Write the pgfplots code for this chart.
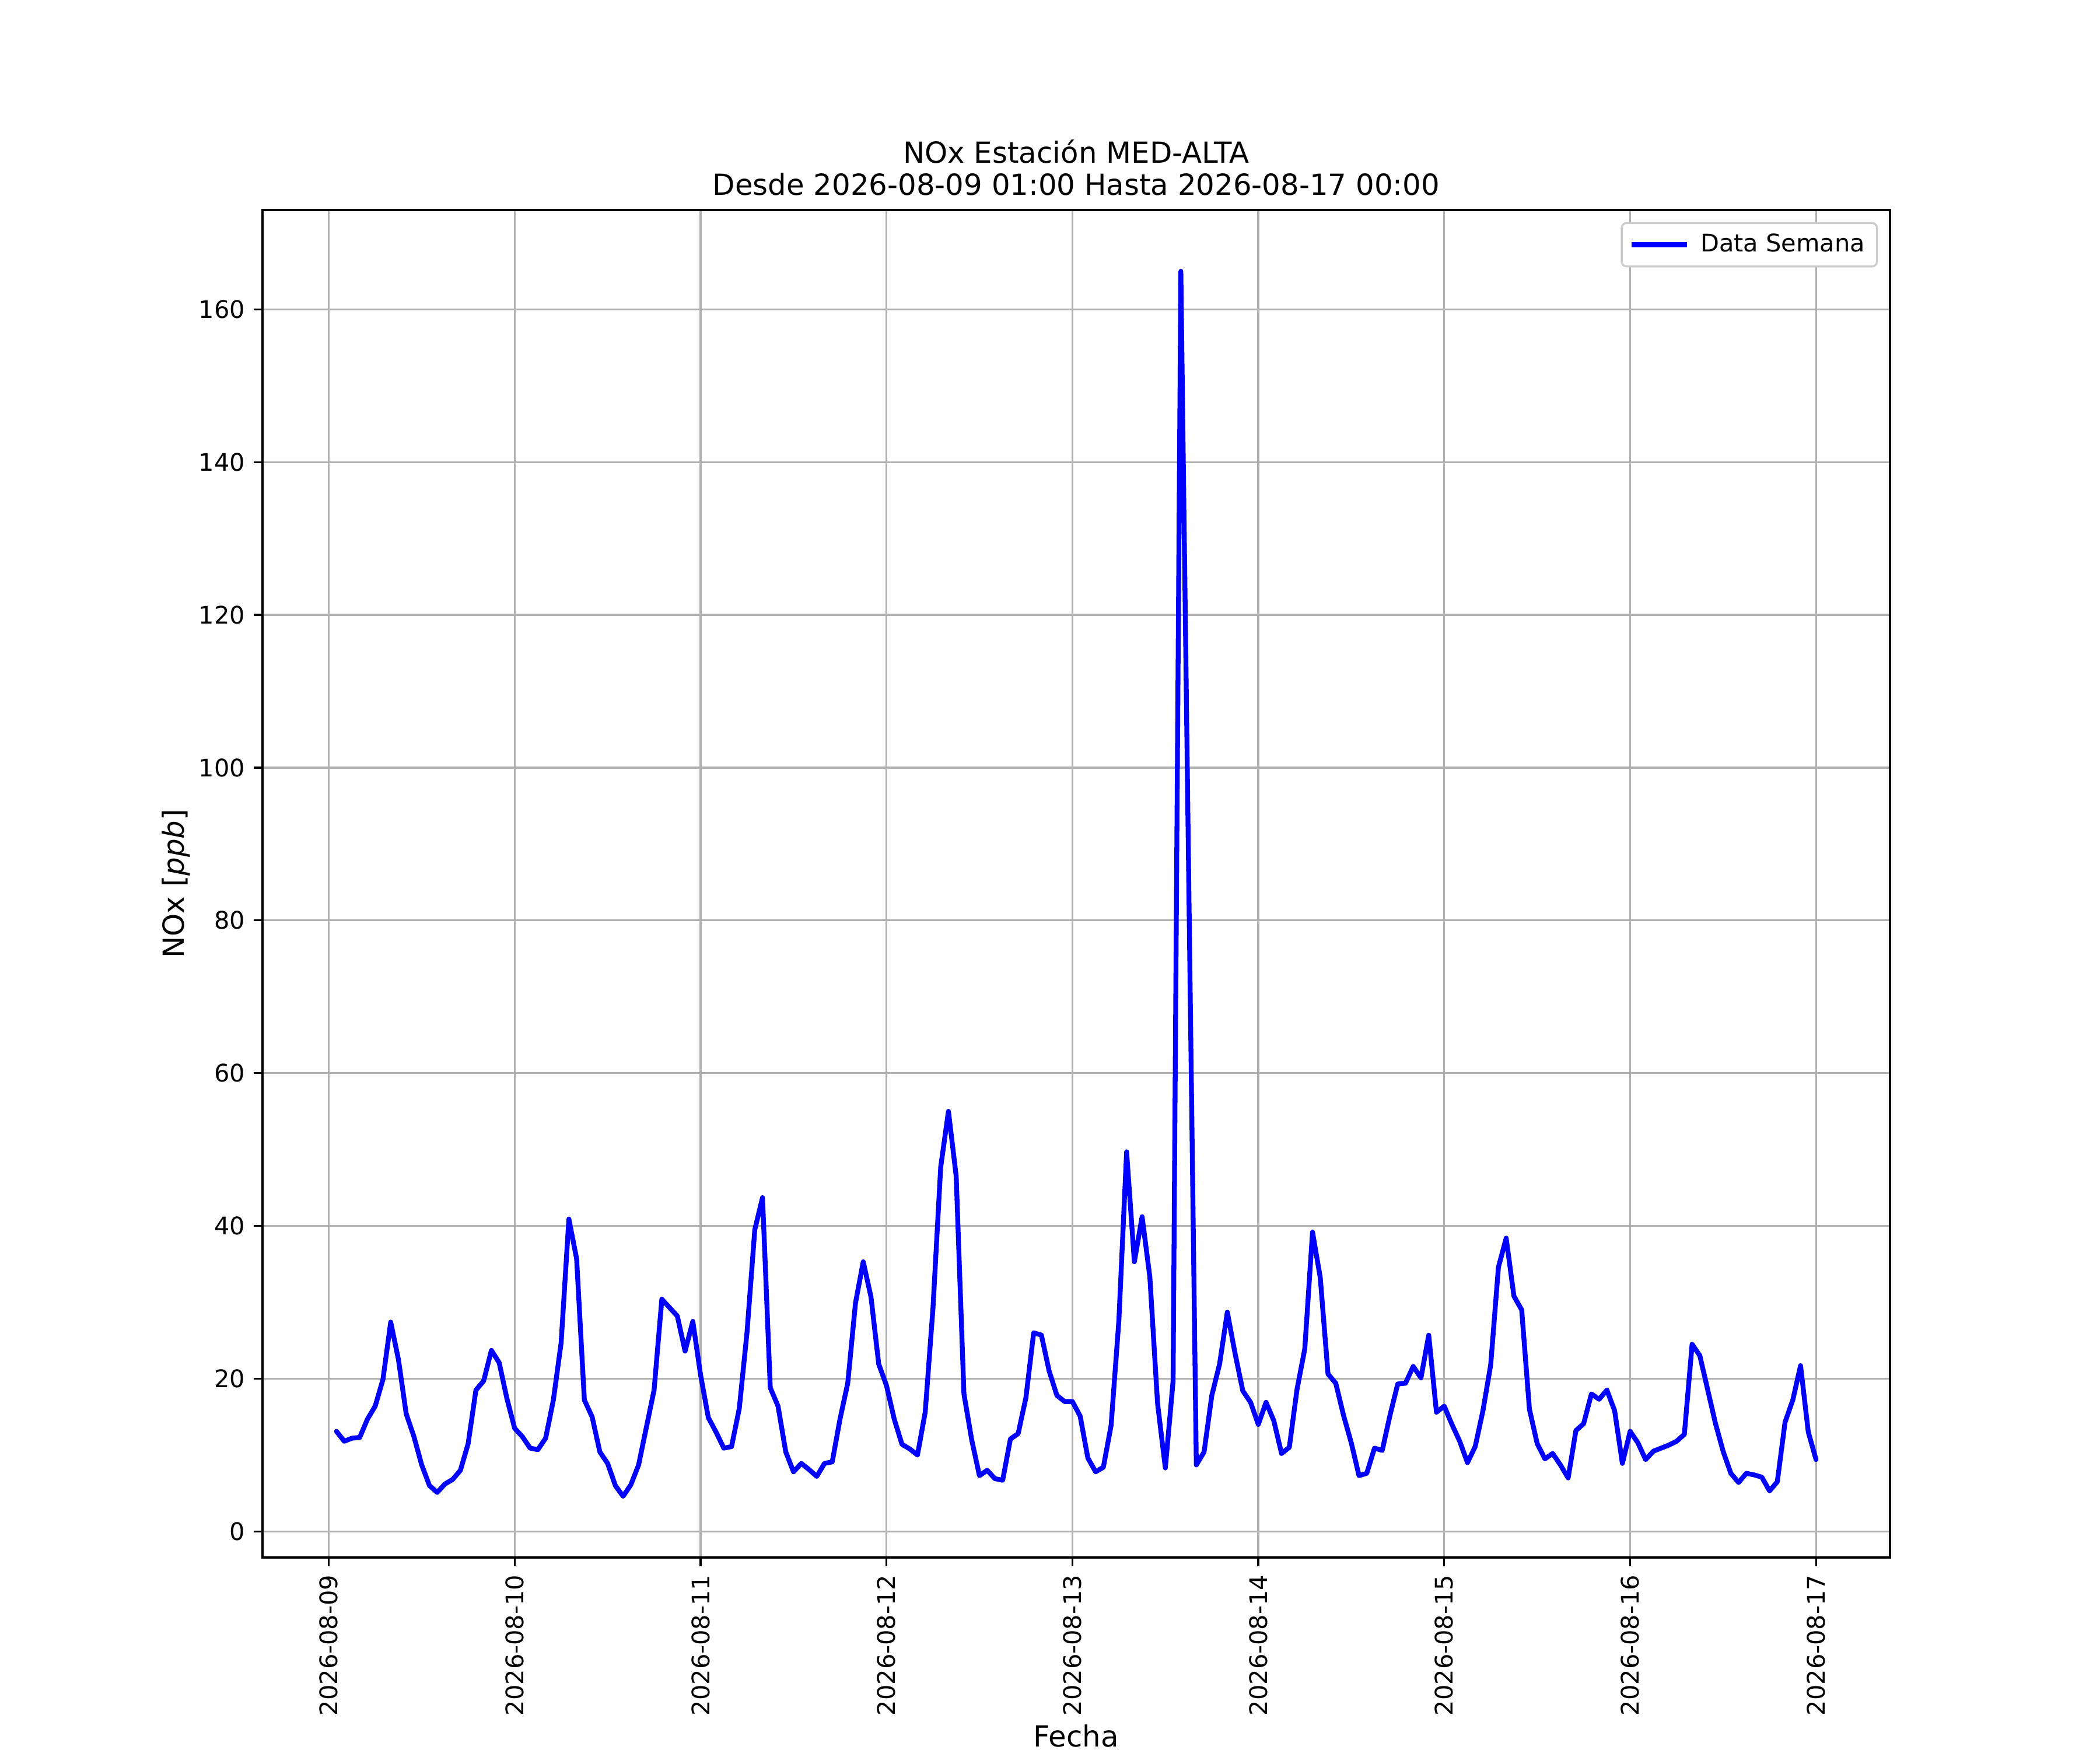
\documentclass[border=0pt]{standalone}
\usepackage{fontspec}
\setmainfont{DejaVu Sans}
\usepackage{pgfplots}
\pgfplotsset{compat=1.18}
\definecolor{gridc}{HTML}{B0B0B0}
\definecolor{legc}{HTML}{CCCCCC}
\begin{document}
\begin{tikzpicture}
\useasboundingbox (0,0) rectangle (12in,10in);
\begin{axis}[
  at={(1.5in,1.1in)}, anchor=south west,
  scale only axis, width=9.3in, height=7.7in,
  xmin=-8.55, xmax=201.55, ymin=-3.42, ymax=173.02,
  xtick={0,24,...,192},
  xticklabels={2026-08-09,2026-08-10,2026-08-11,2026-08-12,2026-08-13,2026-08-14,2026-08-15,2026-08-16,2026-08-17},
  ytick={0,20,...,160},
  xtick pos=left, ytick pos=left,
  tick align=outside, major tick length=3.5pt,
  every tick/.style={black, line width=0.8pt},
  axis line style={line width=0.8pt},
  grid=major, major grid style={gridc, line width=0.8pt},
  /pgf/number format/assume math mode=true,
  ticklabel style={font=\fontsize{10}{12}\selectfont},
  xticklabel style={rotate=90, anchor=east, inner sep=3.5pt},
  yticklabel style={inner sep=3.5pt},
  xlabel={Fecha}, ylabel={NOx [\textit{ppb}]},
  label style={font=\fontsize{12}{14.4}\selectfont},
  xlabel style={inner sep=0pt, yshift=0pt},
  ylabel style={inner sep=0pt},
  title={NOx Estación MED-ALTA\\Desde 2026-08-09 01:00 Hasta 2026-08-17 00:00},
  title style={at={(0.5,1)}, anchor=south, yshift=-3.5pt, align=center, font=\fontsize{12}{13.3}\selectfont},
  legend style={at={(1,1)}, xshift=-5pt, yshift=-5pt, anchor=north east, draw=legc, line width=0.8pt, rounded corners=2pt, font=\fontsize{10}{12}\selectfont, inner xsep=3pt, inner ysep=2.5pt},
  legend image code/.code={\draw[#1, line cap=butt] (0pt,0pt) -- (23pt,0pt);},
  legend cell align=left,
]
\addplot[blue, line width=2pt, line join=round, line cap=round] coordinates {
(1,13.1) (2,11.8) (3,12.2) (4,12.3) (5,14.7) (6,16.4) (7,19.9) (8,27.4) (9,22.5) (10,15.4) (11,12.4) (12,8.7) (13,6.0) (14,5.1) (15,6.2) (16,6.8) (17,8.0) (18,11.5) (19,18.5) (20,19.7) (21,23.7) (22,22.1) (23,17.4)
(24,13.5) (25,12.4) (26,10.9) (27,10.7) (28,12.2) (29,17.2) (30,24.7) (31,40.9) (32,35.7) (33,17.2) (34,15.0) (35,10.4) (36,8.9) (37,6.0) (38,4.6) (39,6.1) (40,8.7) (41,13.6) (42,18.5) (43,30.4) (44,29.3) (45,28.2) (46,23.6) (47,27.5)
(48,20.5) (49,14.9) (50,13.0) (51,10.9) (52,11.1) (53,16.1) (54,26.1) (55,39.5) (56,43.7) (57,18.8) (58,16.4) (59,10.4) (60,7.8) (61,8.9) (62,8.1) (63,7.2) (64,8.9) (65,9.1) (66,14.7) (67,19.4) (68,29.9) (69,35.3) (70,30.7) (71,21.9)
(72,19.1) (73,14.7) (74,11.4) (75,10.8) (76,10.0) (77,15.6) (78,29.2) (79,47.7) (80,55.0) (81,46.5) (82,18.0) (83,12.0) (84,7.3) (85,8.0) (86,6.9) (87,6.7) (88,12.1) (89,12.8) (90,17.5) (91,26.0) (92,25.7) (93,21.0) (94,17.8) (95,17.0)
(96,17.0) (97,15.1) (98,9.6) (99,7.8) (100,8.4) (101,13.9) (102,27.6) (103,49.7) (104,35.3) (105,41.2) (106,33.3) (107,16.7) (108,8.3) (109,19.7) (110,165.0) (112,8.7) (113,10.4) (114,17.8) (115,21.9) (116,28.7) (117,23.3) (118,18.4) (119,16.9)
(120,14.0) (121,16.9) (122,14.5) (123,10.2) (124,11.0) (125,18.6) (126,23.9) (127,39.2) (128,33.2) (129,20.6) (130,19.4) (131,15.2) (132,11.6) (133,7.3) (134,7.6) (135,10.9) (136,10.6) (137,15.2) (138,19.3) (139,19.4) (140,21.6) (141,20.1) (142,25.7) (143,15.6)
(144,16.4) (145,14.0) (146,11.8) (147,9.0) (148,11.1) (149,15.8) (150,21.8) (151,34.6) (152,38.4) (153,30.8) (154,29.0) (155,16.0) (156,11.5) (157,9.5) (158,10.2) (159,8.7) (160,7.0) (161,13.2) (162,14.1) (163,18.0) (164,17.3) (165,18.5) (166,15.8) (167,8.9)
(168,13.1) (169,11.6) (170,9.4) (171,10.5) (172,10.9) (173,11.3) (174,11.8) (175,12.7) (176,24.5) (177,23.0) (178,18.6) (179,14.2) (180,10.5) (181,7.6) (182,6.4) (183,7.6) (184,7.4) (185,7.1) (186,5.3) (187,6.5) (188,14.3) (189,17.2) (190,21.7) (191,13.0)
(192,9.4)
};
\addlegendentry{\hspace{2.5pt}Data Semana}
\end{axis}
\end{tikzpicture}
\end{document}
